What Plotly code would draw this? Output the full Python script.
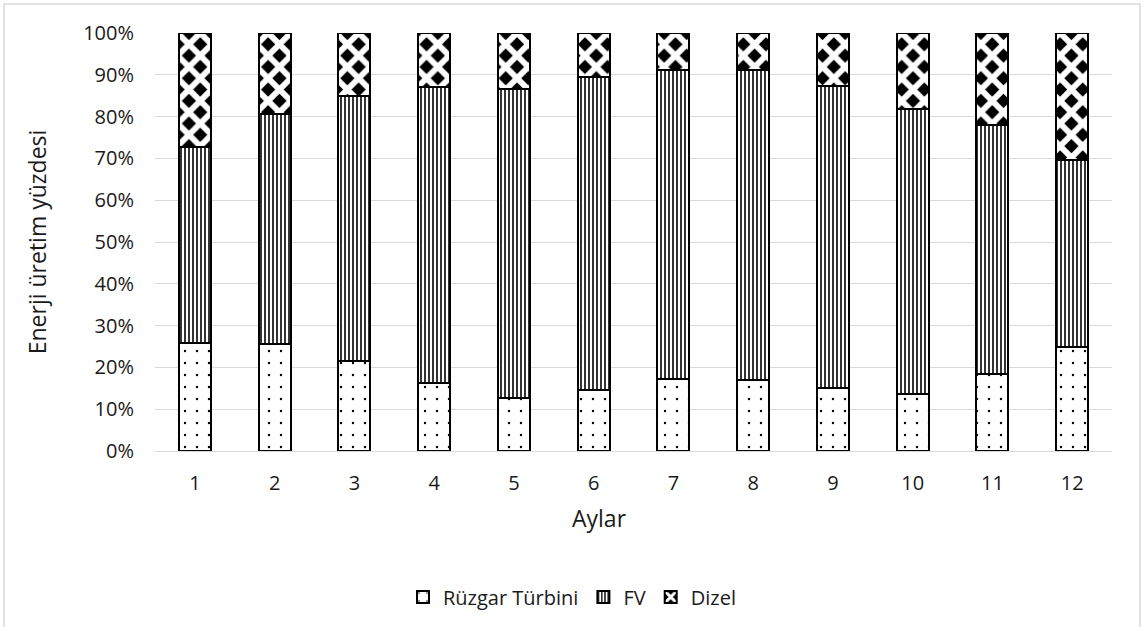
import plotly.graph_objects as go

# Monthly share of energy production by source (%)
months = [str(m) for m in range(1, 13)]
ruzgar = [25.8, 25.7, 21.5, 16.2, 12.6, 14.7, 17.2, 17.1, 15.1, 13.7, 18.4, 25.0]
fv = [47.0, 54.9, 63.5, 71.0, 74.0, 74.8, 73.9, 74.0, 72.3, 68.0, 59.7, 44.7]
dizel = [27.2, 19.4, 15.0, 12.8, 13.4, 10.5, 8.9, 8.9, 12.6, 18.3, 21.9, 30.3]

series_names = ["Rüzgar Türbini", "FV", "Dizel"]
y_tickvals = list(range(0, 101, 10))
y_ticktext = [f"{v}%" for v in y_tickvals]

FONT = "Open Sans"
TXT = "#1a1a1a"
GRID = "#d9d9d9"

outline = dict(color="black", width=2)

fig = go.Figure()
fig.add_trace(go.Bar(
    x=months, y=ruzgar, name=series_names[0],
    marker=dict(color="white", line=outline,
                pattern=dict(shape=".", fgcolor="black", bgcolor="white",
                             size=12, solidity=0.03, fillmode="replace")),
))
fig.add_trace(go.Bar(
    x=months, y=fv, name=series_names[1],
    marker=dict(color="white", line=outline,
                pattern=dict(shape="|", fgcolor="black", bgcolor="white",
                             size=4, solidity=0.4, fillmode="replace")),
))
fig.add_trace(go.Bar(
    x=months, y=dizel, name=series_names[2],
    marker=dict(color="black", line=outline,
                pattern=dict(shape="x", fgcolor="white", bgcolor="black",
                             size=16, solidity=0.6, fillmode="replace")),
))

L, R, T, B = 155, 32, 33, 175
W, H = 1144, 627
pw, ph = W - L - R, H - T - B


def px_x(x):
    return (x - L) / pw


def px_y(y):
    return ((T + ph) - y) / ph


fig.update_layout(
    barmode="stack",
    bargap=0.6,
    width=W, height=H,
    margin=dict(l=L, r=R, t=T, b=B, pad=0),
    paper_bgcolor="white",
    plot_bgcolor="white",
    font=dict(family=FONT, size=20, color=TXT),
    showlegend=True,
    legend=dict(orientation="h", x=px_x(572), xanchor="center",
                y=px_y(597), yanchor="middle",
                font=dict(family=FONT, size=20, color=TXT),
                itemwidth=30, traceorder="normal"),
    xaxis=dict(
        showgrid=False, showline=False, zeroline=False,
        ticks="", ticklabelstandoff=18,
        tickfont=dict(size=20),
    ),
    yaxis=dict(
        title=dict(text="Enerji üretim yüzdesi", standoff=30, font=dict(size=23)),
        range=[0, 100], tickmode="array",
        tickvals=y_tickvals, ticktext=y_ticktext,
        showgrid=True, gridcolor=GRID, gridwidth=1,
        zeroline=True, zerolinecolor=GRID, zerolinewidth=1,
        showline=False, ticks="", ticklabelstandoff=20,
        tickfont=dict(size=20),
    ),
    annotations=[dict(
        text="Aylar", xref="paper", yref="paper",
        x=px_x(599), y=px_y(519), xanchor="center", yanchor="middle",
        showarrow=False, font=dict(family=FONT, size=23, color=TXT),
    )],
    shapes=[dict(
        type="rect", xref="paper", yref="paper",
        x0=px_x(4), x1=px_x(1140),
        y0=px_y(700), y1=px_y(4),
        line=dict(color=GRID, width=1.5), fillcolor="rgba(0,0,0,0)",
        layer="below",
    )],
)

fig.write_html("out.html")
